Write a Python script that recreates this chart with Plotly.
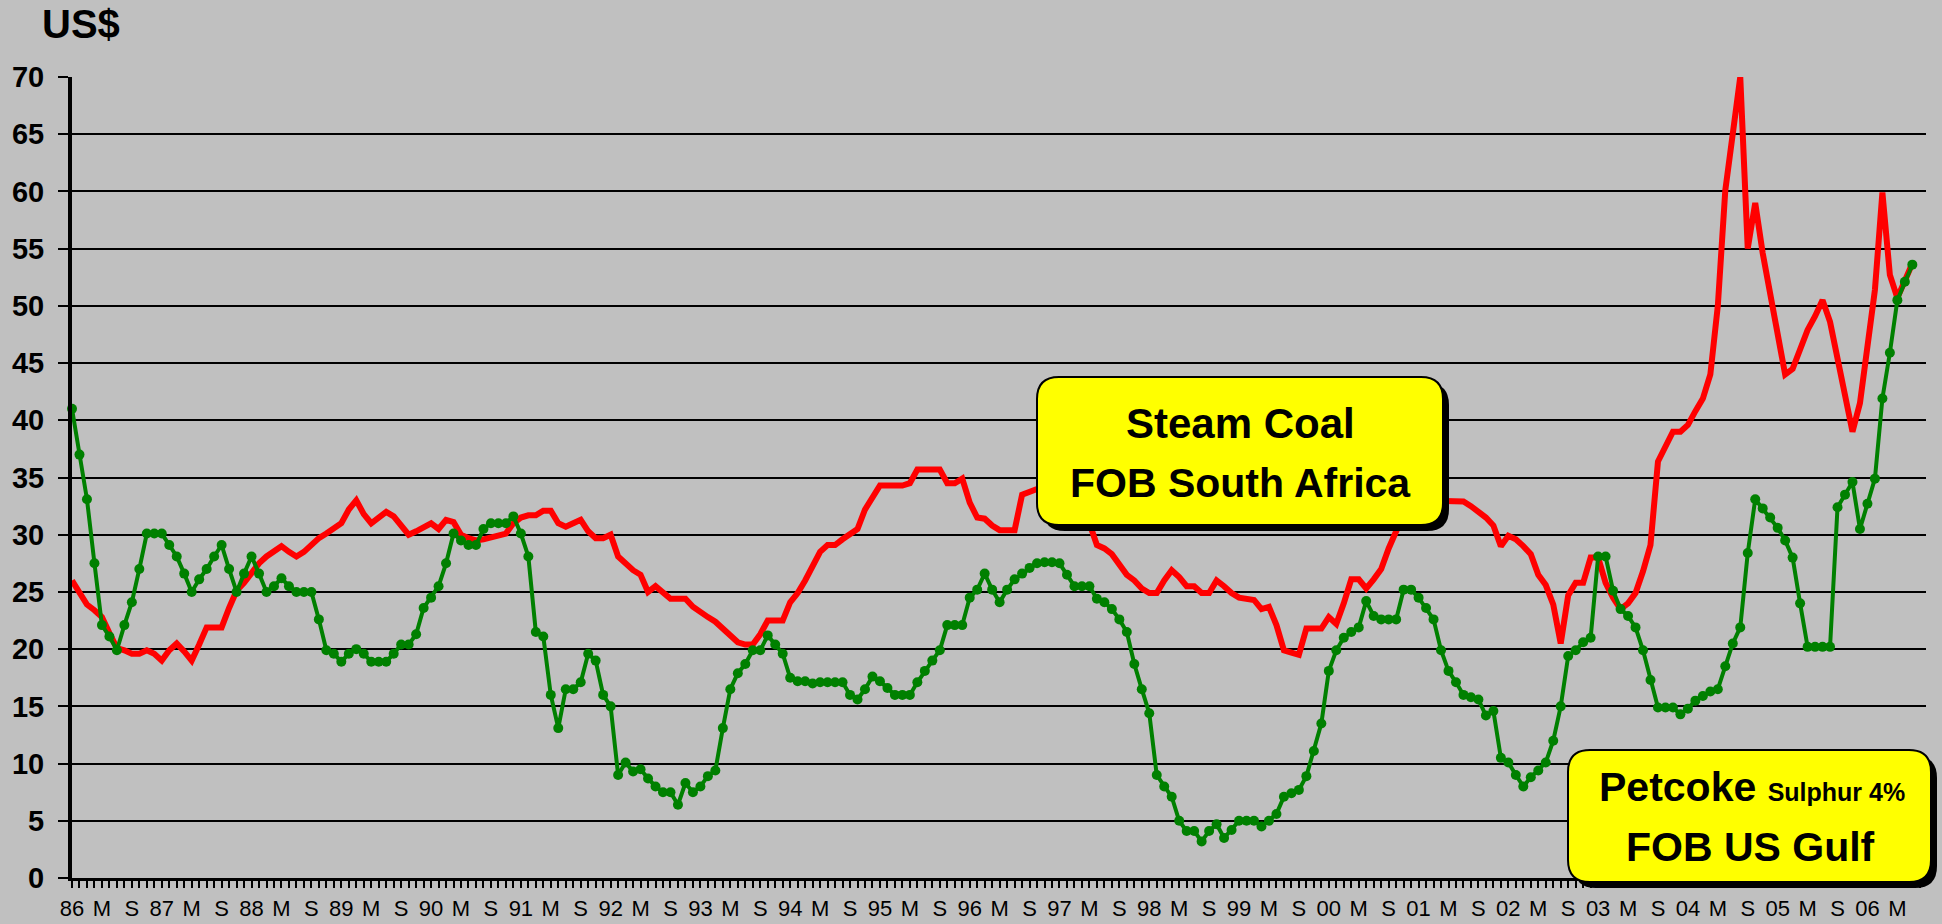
import plotly.graph_objects as go

# ---------------- data (monthly, Jan 1986 .. Jul 2006) ----------------
months = list(range(247))

steam_coal = [
    26.0, 24.9, 23.9, 23.4, 22.8, 21.4, 20.1, 19.9, 19.6, 19.6, 19.9, 19.6,
    19.0, 19.9, 20.5, 19.8, 19.0, 20.4, 21.9, 21.9, 21.9, 23.6, 25.1, 25.8,
    26.7, 27.5, 28.1, 28.5, 29.0, 28.5, 28.1, 28.5, 29.1, 29.7, 30.1, 30.5,
    31.0, 32.2, 33.0, 31.8, 31.0, 31.5, 32.0, 31.6, 30.8, 30.0, 30.3, 30.6,
    31.0, 30.5, 31.3, 31.1, 30.0, 29.7, 29.5, 29.6, 29.8, 30.0, 30.1, 31.0,
    31.5, 31.7, 31.7, 32.1, 32.1, 31.0, 30.7, 31.0, 31.3, 30.3, 29.7, 29.7,
    30.0, 28.1, 27.5, 26.9, 26.5, 25.0, 25.5, 24.9, 24.4, 24.4, 24.4, 23.7,
    23.2, 22.8, 22.4, 21.8, 21.1, 20.6, 20.4, 20.4, 21.3, 22.5, 22.5, 22.5,
    24.1, 24.9, 26.0, 27.3, 28.5, 29.1, 29.1, 29.6, 30.0, 30.5, 32.2, 33.3,
    34.3, 34.3, 34.3, 34.3, 34.5, 35.7, 35.7, 35.7, 35.7, 34.5, 34.5, 34.9,
    32.8, 31.5, 31.4, 30.8, 30.4, 30.4, 30.4, 33.5, 33.7, 34.0, 34.3, 34.5,
    34.5, 34.0, 33.5, 32.5, 31.0, 29.1, 28.8, 28.3, 27.3, 26.5, 26.0, 25.3,
    24.9, 24.9, 26.0, 26.9, 26.3, 25.5, 25.5, 24.9, 24.9, 26.0, 25.5, 24.9,
    24.5, 24.4, 24.3, 23.5, 23.7, 22.1, 19.9, 19.7, 19.5, 21.8, 21.8, 21.8,
    22.8, 22.2, 24.0, 26.1, 26.1, 25.3, 26.1, 27.0, 28.8, 30.3, 31.8, 32.8,
    33.0, 33.0, 33.0, 33.0, 32.9, 32.9, 32.9, 32.5, 32.0, 31.5, 30.8, 29.0,
    29.9, 29.6, 29.0, 28.3, 26.5, 25.6, 23.9, 20.5, 24.7, 25.8, 25.8, 28.0,
    28.0, 25.8, 24.5, 23.5, 24.0, 24.9, 26.8, 29.1, 36.4, 37.6, 39.0, 39.0,
    39.6, 40.8, 41.9, 44.0, 50.0, 60.1, 64.9, 70.0, 55.0, 59.0, 54.6, 50.9,
    47.2, 44.0, 44.5, 46.1, 47.9, 49.1, 50.5, 48.6, 45.4, 42.2, 39.0, 41.5,
    47.0, 51.4, 59.9, 52.7, 50.7, 52.1, 53.7,
]

petcoke = [
    41.0, 37.0, 33.1, 27.5, 22.1, 21.1, 19.9, 22.1, 24.1, 27.0, 30.1, 30.1,
    30.1, 29.1, 28.1, 26.6, 25.0, 26.1, 27.0, 28.1, 29.1, 27.0, 25.0, 26.6,
    28.1, 26.6, 25.0, 25.5, 26.2, 25.5, 25.0, 25.0, 25.0, 22.6, 19.9, 19.6,
    18.9, 19.6, 20.0, 19.6, 18.9, 18.9, 18.9, 19.6, 20.4, 20.4, 21.3, 23.6,
    24.5, 25.5, 27.5, 30.1, 29.5, 29.1, 29.1, 30.5, 31.0, 31.0, 31.0, 31.6,
    30.1, 28.1, 21.5, 21.1, 16.0, 13.1, 16.5, 16.5, 17.1, 19.6, 19.0, 16.0,
    15.0, 9.0, 10.1, 9.3, 9.5, 8.7, 8.0, 7.5, 7.5, 6.4, 8.3, 7.5,
    8.0, 8.9, 9.4, 13.1, 16.5, 17.9, 18.7, 19.9, 19.9, 21.2, 20.4, 19.6,
    17.5, 17.2, 17.2, 17.0, 17.1, 17.1, 17.1, 17.1, 16.0, 15.6, 16.5, 17.6,
    17.2, 16.6, 16.0, 16.0, 16.0, 17.1, 18.1, 19.0, 19.9, 22.1, 22.1, 22.1,
    24.5, 25.2, 26.6, 25.2, 24.1, 25.2, 26.1, 26.6, 27.1, 27.5, 27.6, 27.6,
    27.5, 26.5, 25.5, 25.5, 25.5, 24.4, 24.1, 23.5, 22.6, 21.5, 18.7, 16.5,
    14.4, 9.0, 8.0, 7.1, 5.0, 4.1, 4.1, 3.2, 4.1, 4.7, 3.5, 4.2,
    5.0, 5.0, 5.0, 4.5, 5.0, 5.6, 7.1, 7.4, 7.7, 8.9, 11.1, 13.5,
    18.1, 19.9, 21.0, 21.5, 21.9, 24.2, 22.9, 22.6, 22.6, 22.6, 25.2, 25.2,
    24.5, 23.6, 22.6, 19.9, 18.1, 17.1, 16.0, 15.8, 15.6, 14.2, 14.6, 10.5,
    10.1, 9.0, 8.0, 8.8, 9.4, 10.1, 12.0, 15.0, 19.4, 19.9, 20.6, 21.0,
    28.1, 28.1, 25.1, 23.5, 22.9, 21.9, 19.9, 17.3, 14.9, 14.9, 14.9, 14.3,
    14.8, 15.5, 15.9, 16.3, 16.5, 18.5, 20.5, 21.9, 28.4, 33.1, 32.3, 31.5,
    30.6, 29.5, 28.0, 24.0, 20.2, 20.2, 20.2, 20.2, 32.4, 33.5, 34.6, 30.5,
    32.7, 34.9, 41.9, 45.9, 50.5, 52.1, 53.6,
]

tick_labels = [
    "86", "M", "S", "87", "M", "S", "88", "M", "S", "89", "M", "S",
    "90", "M", "S", "91", "M", "S", "92", "M", "S", "93", "M", "S",
    "94", "M", "S", "95", "M", "S", "96", "M", "S", "97", "M", "S",
    "98", "M", "S", "99", "M", "S", "00", "M", "S", "01", "M", "S",
    "02", "M", "S", "03", "M", "S", "04", "M", "S", "05", "M", "S",
    "06", "M",
]
tick_positions = list(range(0, 4 * len(tick_labels), 4))

y_ticks = [0, 5, 10, 15, 20, 25, 30, 35, 40, 45, 50, 55, 60, 65, 70]

# ---------------- layout geometry ----------------
W, H = 1942, 924
ML, MR, MT, MB = 72, 16, 77, 46
PW = W - ML - MR
PH = H - MT - MB
X_MAX = PW / 7.481

SANS = "'Liberation Sans', Arial, sans-serif"


def px(x):
    return (x - ML) / PW


def py(y):
    return (H - MB - y) / PH


def rrect(x0, y0, x1, y1, r):
    return (
        f"M {px(x0 + r)},{py(y0)} L {px(x1 - r)},{py(y0)} "
        f"Q {px(x1)},{py(y0)} {px(x1)},{py(y0 + r)} "
        f"L {px(x1)},{py(y1 - r)} Q {px(x1)},{py(y1)} {px(x1 - r)},{py(y1)} "
        f"L {px(x0 + r)},{py(y1)} Q {px(x0)},{py(y1)} {px(x0)},{py(y1 - r)} "
        f"L {px(x0)},{py(y0 + r)} Q {px(x0)},{py(y0)} {px(x0 + r)},{py(y0)} Z"
    )


fig = go.Figure()
fig.add_trace(go.Scatter(
    x=months, y=steam_coal, mode="lines",
    line=dict(color="#FF0000", width=6), cliponaxis=False,
    name="Steam Coal FOB South Africa",
))
fig.add_trace(go.Scatter(
    x=months, y=petcoke, mode="lines+markers",
    line=dict(color="#008000", width=4),
    marker=dict(color="#008000", size=10, symbol="circle"),
    cliponaxis=False, name="Petcoke Sulphur 4% FOB US Gulf",
))

shapes = []
boxes = [(1037, 377, 1443, 525), (1568, 750, 1931, 882)]
for (x0, y0, x1, y1) in boxes:
    shapes.append(dict(type="path", xref="paper", yref="paper", layer="above",
                       path=rrect(x0 + 6, y0 + 6, x1 + 6, y1 + 6, 22),
                       fillcolor="black", line=dict(width=0)))
    shapes.append(dict(type="path", xref="paper", yref="paper", layer="above",
                       path=rrect(x0, y0, x1, y1, 22),
                       fillcolor="#FFFF00", line=dict(color="black", width=2)))

annotations = [
    dict(text="<b>US$</b>", x=px(40), y=py(24), xref="paper", yref="paper",
         xanchor="left", yanchor="middle", showarrow=False,
         font=dict(family=SANS, size=40, color="black")),
    dict(text="<b>Steam Coal</b>", x=px(1240), y=py(424), xref="paper", yref="paper",
         xanchor="center", yanchor="middle", showarrow=False,
         font=dict(family=SANS, size=42, color="black")),
    dict(text="<b>FOB South Africa</b>", x=px(1240), y=py(483), xref="paper", yref="paper",
         xanchor="center", yanchor="middle", showarrow=False,
         font=dict(family=SANS, size=41, color="black")),
    dict(text="<b>Petcoke <span style='font-size:25px'>Sulphur 4%</span></b>",
         x=px(1752), y=py(787), xref="paper", yref="paper",
         xanchor="center", yanchor="middle", showarrow=False,
         font=dict(family=SANS, size=41, color="black")),
    dict(text="<b>FOB US Gulf</b>", x=px(1750), y=py(847), xref="paper", yref="paper",
         xanchor="center", yanchor="middle", showarrow=False,
         font=dict(family=SANS, size=41, color="black")),
]

fig.update_layout(
    width=W, height=H, autosize=False,
    margin=dict(l=ML, r=MR, t=MT, b=MB, pad=0, autoexpand=False),
    paper_bgcolor="#C0C0C0", plot_bgcolor="#C0C0C0",
    showlegend=False,
    shapes=shapes, annotations=annotations,
    xaxis=dict(
        range=[0, X_MAX], tickmode="array", tickvals=tick_positions, ticktext=tick_labels,
        showgrid=False, zeroline=False, automargin=False,
        showline=True, linecolor="black", linewidth=3,
        ticks="outside", ticklen=7, tickwidth=2, tickcolor="black",
        ticklabelstandoff=2,
        tickfont=dict(family=SANS, size=22, color="black"),
        minor=dict(tickmode="linear", tick0=0, dtick=1, ticks="outside",
                   ticklen=7, tickwidth=2, tickcolor="black", showgrid=False),
        fixedrange=True,
    ),
    yaxis=dict(
        range=[0, 70], tickmode="array", tickvals=y_ticks,
        showgrid=True, gridcolor="black", gridwidth=2, zeroline=False,
        showline=True, linecolor="black", linewidth=4, automargin=False,
        ticks="outside", ticklen=10, tickwidth=2, tickcolor="black",
        ticklabelstandoff=8,
        tickfont=dict(family=SANS, size=29, color="black", weight="bold"),
        fixedrange=True,
    ),
)

fig.write_html("out.html", config={"displayModeBar": False},
               post_script="document.body.style.margin='0';document.body.style.overflow='hidden';")
